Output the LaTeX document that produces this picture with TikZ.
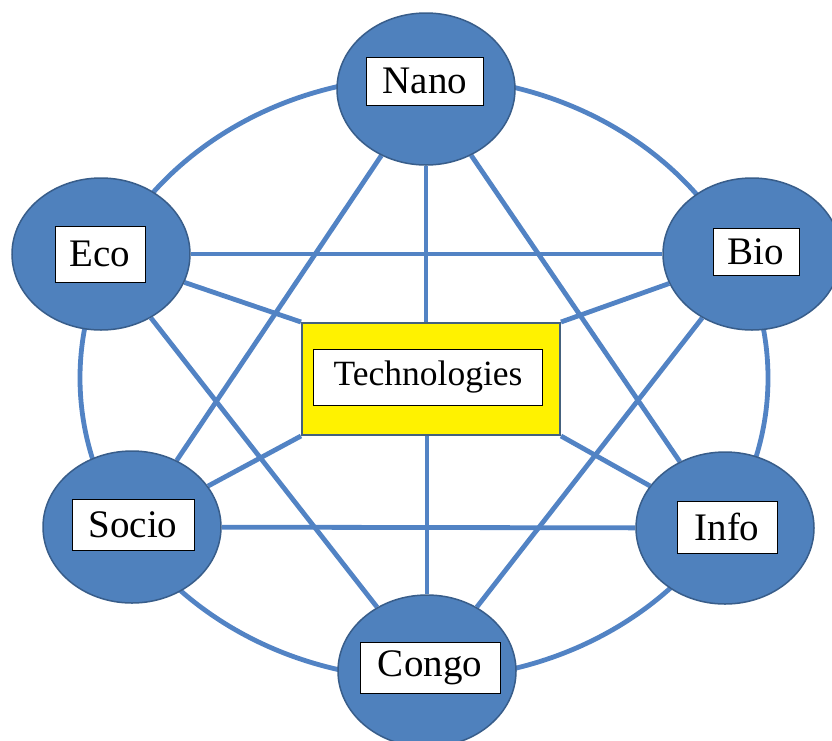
\documentclass[tikz,border=0pt]{standalone}
\usepackage{fontspec}
\setmainfont{Liberation Serif}
\usetikzlibrary{shapes.geometric, backgrounds}
\definecolor{hubblue}{HTML}{4F81BD}
\definecolor{hubedge}{HTML}{385D8A}
\definecolor{linkblue}{HTML}{5283C4}
\definecolor{boxedge}{HTML}{44617E}

\begin{document}
\begin{tikzpicture}[x=1pt, y=-1pt,
    hub/.style={ellipse, fill=hubblue, draw=hubedge, line width=1.5pt, minimum width=178pt, minimum height=152pt, inner sep=0pt},
    tag/.style={rectangle, fill=white, draw=black, line width=0.9pt, minimum height=50pt, inner sep=0pt, font=\fontsize{39}{40}\selectfont},
    link/.style={linkblue, line width=4.8pt}]
      \useasboundingbox (0,0) rectangle (832,740);

      % outer nodes
      \node[hub] (nano) at (426, 89) {};
      \node[hub] (eco) at (101, 254) {};
      \node[hub] (bio) at (752, 254) {};
      \node[hub] (socio) at (132, 527) {};
      \node[hub] (info) at (725, 528) {};
      \node[hub] (congo) at (427, 671) {};

      % centre box
      \node[rectangle, fill=yellow, draw=boxedge, line width=2pt, minimum width=258pt, minimum height=112pt, inner sep=0pt] (tech) at (431, 379) {};

      % labels
      \node[tag, minimum width=117pt, minimum height=48pt] (nanotag) at (425, 81) {Nano};
      \node[tag, minimum width=90pt, minimum height=56pt] (ecotag) at (100, 254) {Eco};
      \node[tag, minimum width=86pt, minimum height=47pt] (biotag) at (756, 252) {Bio};
      \node[tag, minimum width=122pt, minimum height=51pt] (sociotag) at (133, 525) {Socio};
      \node[tag, minimum width=100pt, minimum height=52pt] (infotag) at (727, 527) {Info};
      \node[tag, minimum width=140pt, minimum height=51pt] (congotag) at (430, 668) {Congo};
      \node[tag, minimum width=229pt, minimum height=56pt, font=\fontsize{35.5}{37}\selectfont] (techtag) at (428, 377) {Technologies};

      \begin{scope}[on background layer]
        \draw[link] (424, 378) ellipse [x radius=344, y radius=301];

        \draw[link] (nano) -- (nano |- tech.north);
        \draw[link] (congo) -- (congo |- tech.south);
        \draw[link] (eco) -- (tech.north west);
        \draw[link] (bio) -- (tech.north east);
        \draw[link] (socio) -- (tech.south west);
        \draw[link] (info) -- (tech.south east);

        \draw[link] (nano) -- (socio);
        \draw[link] (nano) -- (info);
        \draw[link] (eco) -- (bio);
        \draw[link] (eco) -- (congo);
        \draw[link] (bio) -- (congo);
        \draw[link] (socio) -- (info);
      \end{scope}

    \end{tikzpicture}
\end{document}
